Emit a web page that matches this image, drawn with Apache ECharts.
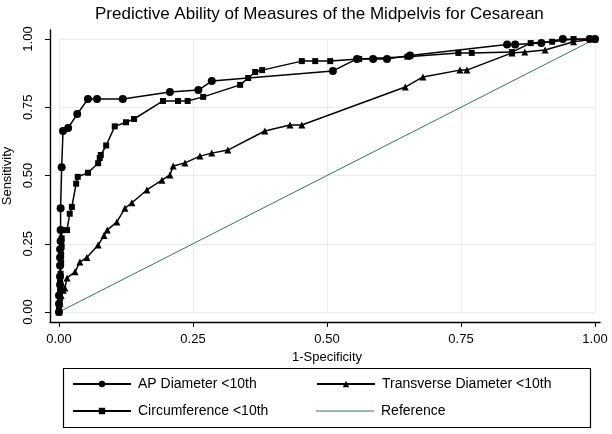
<!DOCTYPE html>
<html>
<head>
<meta charset="utf-8">
<script src="https://cdn.jsdelivr.net/npm/echarts@6/dist/echarts.min.js"></script>
<style>html,body{margin:0;padding:0;background:#fff}#c{width:612px;height:434px}</style>
</head>
<body>
<div id="c"></div>
<script>
var titleText = 'Predictive Ability of Measures of the Midpelvis for Cesarean';
var xTitle = '1-Specificity';
var yTitle = 'Sensitivity';
var seriesNames = ['AP Diameter <10th', 'Transverse Diameter <10th', 'Circumference <10th', 'Reference'];

var apDiameter = [[0,0],[0,0.03],[0,0.06],[0.002,0.1],[0.002,0.13],[0.002,0.17],[0.002,0.2],[0.002,0.23],[0.003,0.26],[0.003,0.3],[0.003,0.38],[0.005,0.53],[0.0075,0.663],[0.017,0.674],[0.034,0.725],[0.054,0.78],[0.071,0.78],[0.119,0.78],[0.207,0.806],[0.26,0.813],[0.285,0.846],[0.511,0.883],[0.556,0.927],[0.586,0.927],[0.612,0.927],[0.655,0.94],[0.836,0.98],[0.851,0.98],[0.9,0.985],[0.94,1],[0.99,1],[1,1]];

var circumference = [[0,0],[0,0.02],[0.002,0.05],[0.002,0.08],[0.002,0.11],[0.003,0.14],[0.004,0.18],[0.004,0.21],[0.005,0.24],[0.005,0.27],[0.005,0.3],[0.015,0.3],[0.02,0.36],[0.024,0.385],[0.032,0.47],[0.035,0.495],[0.054,0.51],[0.073,0.545],[0.076,0.564],[0.078,0.575],[0.088,0.61],[0.104,0.68],[0.125,0.695],[0.14,0.707],[0.194,0.773],[0.222,0.773],[0.24,0.773],[0.269,0.788],[0.338,0.832],[0.353,0.857],[0.366,0.879],[0.379,0.886],[0.453,0.919],[0.478,0.919],[0.506,0.919],[0.56,0.927],[0.65,0.935],[0.745,0.949],[0.77,0.949],[0.845,0.952],[0.88,0.985],[0.92,0.99],[0.96,1],[1,1]];

var transverse = [[0,0],[0.002,0.03],[0.004,0.06],[0.008,0.08],[0.011,0.088],[0.015,0.125],[0.03,0.147],[0.039,0.183],[0.052,0.2],[0.073,0.245],[0.084,0.28],[0.09,0.3],[0.108,0.33],[0.123,0.38],[0.136,0.4],[0.164,0.447],[0.192,0.483],[0.207,0.502],[0.213,0.535],[0.235,0.546],[0.263,0.571],[0.285,0.582],[0.315,0.593],[0.384,0.663],[0.431,0.685],[0.453,0.685],[0.646,0.824],[0.679,0.861],[0.748,0.886],[0.761,0.886],[0.845,0.949],[0.869,0.952],[0.907,0.96],[0.96,0.99],[1,1]];

var referenceLine = [[0,0],[1,1]];

var chart = echarts.init(document.getElementById('c'), null, {renderer: 'canvas'});
var font = 'Liberation Sans, Arial, sans-serif';
var lineStyleMain = {color: '#000', width: 1.5};

function legendAt(item, left, top, h) {
  return {
    data: [item], left: left, top: top, orient: 'horizontal',
    itemWidth: 58, itemHeight: h, selectedMode: false, padding: 0,
    textStyle: {fontFamily: font, fontSize: 14, color: '#000', padding: [0,0,0,2]}
  };
}

chart.setOption({
  animation: false,
  backgroundColor: '#fff',
  title: {text: titleText, left: 90, top: 1,
    textStyle: {fontFamily: font, fontSize: 17, fontWeight: 'normal', color: '#000'}},
  grid: [
    {left: 50, right: 12, top: 30, bottom: 112, containLabel: false, outerBoundsMode: 'none'},
    {left: 59, right: 17, top: 39, bottom: 122, containLabel: false, outerBoundsMode: 'none'}
  ],
  xAxis: [
    {gridIndex: 0, type: 'value', min: 0, max: 1,
      axisLine: {show: true, onZero: false, lineStyle: {color: '#000', width: 1.4}},
      axisTick: {show: false}, axisLabel: {show: false}, splitLine: {show: false}},
    {gridIndex: 1, type: 'value', min: 0, max: 1, interval: 0.25, offset: 10,
      name: xTitle, nameLocation: 'middle', nameGap: 27,
      nameTextStyle: {fontFamily: font, fontSize: 13, color: '#000'},
      axisLine: {show: false, onZero: false},
      axisTick: {show: true, length: 5, lineStyle: {color: '#000', width: 1}},
      axisLabel: {fontFamily: font, fontSize: 13, color: '#000', margin: 11,
        formatter: function (v) { return v.toFixed(2); }},
      splitLine: {show: true, lineStyle: {color: '#e8eeee', width: 1}}}
  ],
  yAxis: [
    {gridIndex: 0, type: 'value', min: 0, max: 1,
      name: yTitle, nameLocation: 'middle', nameGap: 36, nameRotate: 90,
      nameTextStyle: {fontFamily: font, fontSize: 13, color: '#000'},
      axisLine: {show: true, onZero: false, lineStyle: {color: '#000', width: 1.4}},
      axisTick: {show: false}, axisLabel: {show: false}, splitLine: {show: false}},
    {gridIndex: 1, type: 'value', min: 0, max: 1, interval: 0.25, offset: 9,
      axisLine: {show: false, onZero: false},
      axisTick: {show: true, length: 5, lineStyle: {color: '#000', width: 1}},
      axisLabel: {fontFamily: font, fontSize: 13, color: '#000', margin: 15, rotate: 90,
        formatter: function (v) { return v.toFixed(2); }},
      splitLine: {show: true, lineStyle: {color: '#e8eeee', width: 1}}}
  ],
  legend: [
    legendAt(seriesNames[0], 72, 377, 8),
    legendAt(seriesNames[1], 316, 377, 8),
    legendAt(seriesNames[2], 72, 404, 8),
    legendAt({name: seriesNames[3], icon: 'rect'}, 316, 404, 1.2)
  ],
  graphic: [{type: 'rect', shape: {x: 63.5, y: 368.5, width: 527, height: 59},
    style: {fill: 'none', stroke: '#000', lineWidth: 1.2}, z: 100}],
  series: [
    {name: seriesNames[3], type: 'line', xAxisIndex: 1, yAxisIndex: 1, data: referenceLine,
      symbol: 'none', lineStyle: {color: '#3e6e6e', width: 1}, itemStyle: {color: '#3e6e6e'}, z: 1},
    {name: seriesNames[0], type: 'line', xAxisIndex: 1, yAxisIndex: 1, data: apDiameter,
      symbol: 'circle', symbolSize: 8, showAllSymbol: true,
      lineStyle: lineStyleMain, itemStyle: {color: '#000'}, z: 3},
    {name: seriesNames[1], type: 'line', xAxisIndex: 1, yAxisIndex: 1, data: transverse,
      symbol: 'triangle', symbolSize: 7, showAllSymbol: true,
      lineStyle: lineStyleMain, itemStyle: {color: '#000'}, z: 3},
    {name: seriesNames[2], type: 'line', xAxisIndex: 1, yAxisIndex: 1, data: circumference,
      symbol: 'rect', symbolSize: 6, showAllSymbol: true,
      lineStyle: lineStyleMain, itemStyle: {color: '#000'}, z: 3}
  ]
});
</script>
</body>
</html>
